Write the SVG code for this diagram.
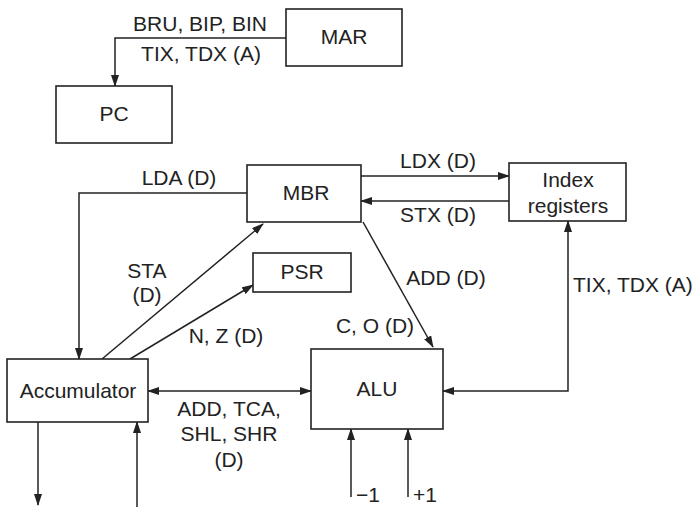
<svg xmlns="http://www.w3.org/2000/svg" width="695" height="507" viewBox="0 0 695 507">
<style>
.box{fill:#fff;stroke:#222;stroke-width:1.6}
.ln{fill:none;stroke:#222;stroke-width:1.5}
text{font-family:"Liberation Sans",Arial,sans-serif;font-size:21px;fill:#222}
.m{text-anchor:middle}
</style>
<defs>
<marker id="ah" markerWidth="12" markerHeight="8" refX="11" refY="4" orient="auto" markerUnits="userSpaceOnUse">
<path d="M0,0 L12,4 L0,8 Z" fill="#222"/>
</marker>
<marker id="as" markerWidth="12" markerHeight="8" refX="1" refY="4" orient="auto" markerUnits="userSpaceOnUse">
<path d="M12,0 L0,4 L12,8 Z" fill="#222"/>
</marker>
</defs>
<rect width="695" height="507" fill="#fff"/>
<g id="connectors">
<path class="ln" d="M286,38 H115 V86" marker-end="url(#ah)"/>
<path class="ln" d="M247,193 H79 V359" marker-end="url(#ah)"/>
<path class="ln" d="M361,176 H509" marker-end="url(#ah)"/>
<path class="ln" d="M509,201 H361" marker-end="url(#ah)"/>
<path class="ln" d="M102,359 L263,224" marker-end="url(#ah)"/>
<path class="ln" d="M130,359 L253,285" marker-end="url(#ah)"/>
<path class="ln" d="M363,222 L433,347" marker-end="url(#ah)"/>
<path class="ln" d="M148,391 H311" marker-start="url(#as)" marker-end="url(#ah)"/>
<path class="ln" d="M568,221 V391 H443" marker-start="url(#as)" marker-end="url(#ah)"/>
<path class="ln" d="M38,422 V505" marker-end="url(#ah)"/>
<path class="ln" d="M137,507 V422" marker-end="url(#ah)"/>
<path class="ln" d="M351,497 V429" marker-end="url(#ah)"/>
<path class="ln" d="M408,497 V429" marker-end="url(#ah)"/>
<text class="m" x="200" y="31">BRU, BIP, BIN</text>
<text class="m" x="201" y="61">TIX, TDX (A)</text>
<text class="m" x="179" y="185">LDA (D)</text>
<text class="m" x="438" y="168">LDX (D)</text>
<text class="m" x="438" y="222">STX (D)</text>
<text class="m" x="147" y="278">STA</text>
<text class="m" x="147" y="302">(D)</text>
<text class="m" x="226" y="343">N, Z (D)</text>
<text class="m" x="446" y="285">ADD (D)</text>
<text class="m" x="375" y="333">C, O (D)</text>
<text x="573" y="292">TIX, TDX (A)</text>
<text class="m" x="229" y="416">ADD, TCA,</text>
<text class="m" x="229" y="441">SHL, SHR</text>
<text class="m" x="229" y="467">(D)</text>
<text x="356" y="502">−1</text>
<text x="413" y="502">+1</text>
</g>
<g id="MAR"><rect class="box" x="286" y="9" width="116" height="57"/><text class="m" x="344" y="44">MAR</text></g>
<g id="PC"><rect class="box" x="56" y="86" width="116" height="57"/><text class="m" x="114" y="121">PC</text></g>
<g id="MBR"><rect class="box" x="247" y="165" width="114" height="57"/><text class="m" x="306" y="200">MBR</text></g>
<g id="IndexRegisters"><rect class="box" x="509" y="163" width="117" height="58"/><text class="m" x="568" y="187">Index</text><text class="m" x="568" y="213">registers</text></g>
<g id="PSR"><rect class="box" x="253" y="253" width="98" height="39"/><text class="m" x="302" y="279">PSR</text></g>
<g id="Accumulator"><rect class="box" x="7" y="359" width="141" height="63"/><text class="m" x="78" y="398">Accumulator</text></g>
<g id="ALU"><rect class="box" x="311" y="349" width="132" height="80"/><text class="m" x="377" y="396">ALU</text></g>
</svg>
